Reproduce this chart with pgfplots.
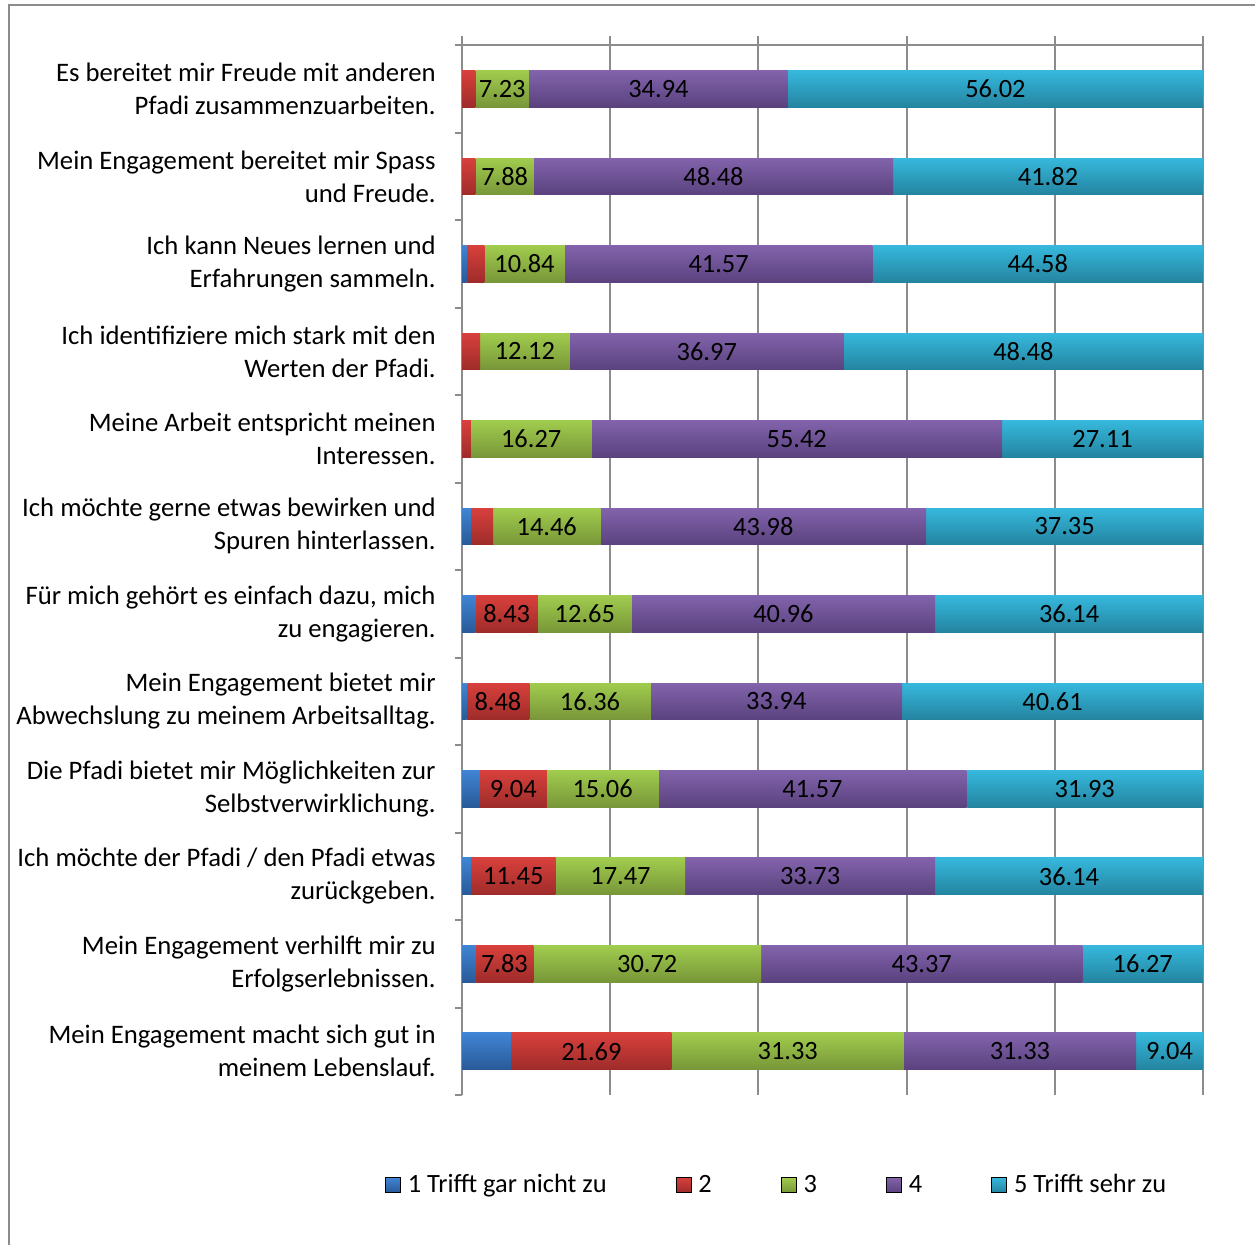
\documentclass[border=0pt]{standalone}
\usepackage{pgfplots}
\usepackage{pgfplotstable}
\pgfplotsset{compat=1.18}
\usepackage{fontspec}
\setmainfont{Carlito}
\definecolor{gridc}{RGB}{140,140,140}
\definecolor{frm}{RGB}{140,140,140}
\definecolor{bT}{RGB}{64,132,212}\definecolor{bB}{RGB}{41,90,152}
\definecolor{rT}{RGB}{216,64,60}\definecolor{rB}{RGB}{158,44,42}
\definecolor{gT}{RGB}{160,204,78}\definecolor{gB}{RGB}{120,150,56}
\definecolor{pT}{RGB}{130,99,172}\definecolor{pB}{RGB}{90,66,126}
\definecolor{cT}{RGB}{54,184,220}\definecolor{cB}{RGB}{36,132,160}

\pgfplotstableread{
row s1 s2 s3 s4 s5
0 0 1.81 7.23 34.94 56.02
1 0 1.82 7.88 48.48 41.82
2 0.60 2.41 10.84 41.57 44.58
3 0 2.43 12.12 36.97 48.48
4 0 1.20 16.27 55.42 27.11
5 1.20 3.01 14.46 43.98 37.35
6 1.82 8.43 12.65 40.96 36.14
7 0.61 8.48 16.36 33.94 40.61
8 2.41 9.04 15.06 41.57 31.93
9 1.20 11.45 17.47 33.73 36.14
10 1.81 7.83 30.72 43.37 16.27
11 6.61 21.69 31.33 31.33 9.04
}\data

\pgfplotstableread{
x y l
5.425 0 7.23
26.51 0 34.94
71.99 0 56.02
5.76 1 7.88
33.94 1 48.48
79.09 1 41.82
8.43 2 10.84
34.635 2 41.57
77.71 2 44.58
8.49 3 12.12
33.035 3 36.97
75.76 3 48.48
9.335 4 16.27
45.18 4 55.42
86.445 4 27.11
11.44 5 14.46
40.66 5 43.98
81.325 5 37.35
6.035 6 8.43
16.575 6 12.65
43.38 6 40.96
81.93 6 36.14
4.85 7 8.48
17.27 7 16.36
42.42 7 33.94
79.695 7 40.61
6.93 8 9.04
18.98 8 15.06
47.295 8 41.57
84.045 8 31.93
6.925 9 11.45
21.385 9 17.47
46.985 9 33.73
81.92 9 36.14
5.725 10 7.83
25.0 10 30.72
62.045 10 43.37
91.865 10 16.27
17.455 11 21.69
43.965 11 31.33
75.295 11 31.33
95.48 11 9.04
}\labels

\pgfplotsset{
  common/.style={
    scale only axis,
    width=370.5pt, height=529.5pt,
    at={(231pt,-547.5pt)}, anchor=south west,
    xmin=0, xmax=100,
    ymin=-0.605, ymax=11.5,
    y dir=reverse,
  }
}

\begin{document}
\begin{tikzpicture}
\useasboundingbox (0,0) rectangle (627.5pt,-622.5pt);
\draw[frm, line width=0.8pt] (4.5pt,-2.5pt) rectangle (640pt,-640pt);
\begin{axis}[common,
  axis line style={draw=none},
  xtick={0,20,...,100}, xticklabels={},
  xmajorgrids,
  x grid style={gridc, line width=1pt},
  xtick style={draw=none},
  ytick={-0.5,0.5,...,11.5}, yticklabels={},
  ytick style={gridc, line width=1pt},
  major tick length=3.5pt,
  tick align=outside,
  ytick pos=left,
  extra y ticks={0,1,...,11},
  extra y tick labels={
    {Es bereitet mir Freude mit anderen\\Pfadi zusammenzuarbeiten.},
    {Mein Engagement bereitet mir Spass\\und Freude.},
    {Ich kann Neues lernen und\\Erfahrungen sammeln.},
    {Ich identifiziere mich stark mit den\\Werten der Pfadi.},
    {Meine Arbeit entspricht meinen\\Interessen.},
    {Ich möchte gerne etwas bewirken und\\Spuren hinterlassen.},
    {Für mich gehört es einfach dazu, mich\\zu engagieren.},
    {Mein Engagement bietet mir\\Abwechslung zu meinem Arbeitsalltag.},
    {Die Pfadi bietet mir Möglichkeiten zur\\Selbstverwirklichung.},
    {Ich möchte der Pfadi / den Pfadi etwas\\zurückgeben.},
    {Mein Engagement verhilft mir zu\\Erfolgserlebnissen.},
    {Mein Engagement macht sich gut in\\meinem Lebenslauf.}},
  extra y tick style={major tick length=0pt, tick style={draw=none}},
  yticklabel style={align=right, inner sep=0pt, xshift=-13pt,
    font=\fontsize{13.35}{16.5}\selectfont},
  legend columns=5,
  legend style={draw=none, fill=none, inner sep=0pt, outer sep=0pt,
    at={(axis description cs:-0.1039,-0.085)}, anchor=west,
    font=\fontsize{13.2}{16}\selectfont,
    nodes={inner sep=0pt},
    /tikz/every odd column/.append style={column sep=3.5pt},
    /tikz/every even column/.append style={column sep=34.5pt}},
  legend image code/.code={\fill[#1] (0pt,-3.75pt) rectangle (7.5pt,3.75pt);},
]
\addlegendimage{top color=bT, bottom color=bB}
\addlegendentry{1 Trifft gar nicht zu}
\addlegendimage{top color=rT, bottom color=rB}
\addlegendentry{2}
\addlegendimage{top color=gT, bottom color=gB}
\addlegendentry{3}
\addlegendimage{top color=pT, bottom color=pB}
\addlegendentry{4}
\addlegendimage{top color=cT, bottom color=cB}
\addlegendentry{5 Trifft sehr zu}
\draw[gridc, line width=1pt] (axis cs:0,-0.5) -- (axis cs:100,-0.5);
\end{axis}
\foreach \i in {0,...,11}{%
\begin{axis}[common, hide axis, xbar stacked, bar width=18.3pt]
\addplot[draw=none, top color=bT, bottom color=bB, restrict y to domain=\i:\i] table[x=s1, y=row] \data;
\addplot[draw=none, top color=rT, bottom color=rB, restrict y to domain=\i:\i] table[x=s2, y=row] \data;
\addplot[draw=none, top color=gT, bottom color=gB, restrict y to domain=\i:\i] table[x=s3, y=row] \data;
\addplot[draw=none, top color=pT, bottom color=pB, restrict y to domain=\i:\i] table[x=s4, y=row] \data;
\addplot[draw=none, top color=cT, bottom color=cB, restrict y to domain=\i:\i] table[x=s5, y=row] \data;
\end{axis}}
\begin{axis}[common, hide axis]
\addplot[draw=none, mark=none, nodes near coords, point meta=explicit symbolic,
  every node near coord/.style={anchor=center, inner sep=0pt, text=black,
    font=\fontsize{13.2}{16}\selectfont}]
  table[x=x, y=y, meta=l] \labels;
\end{axis}
\end{tikzpicture}
\end{document}
